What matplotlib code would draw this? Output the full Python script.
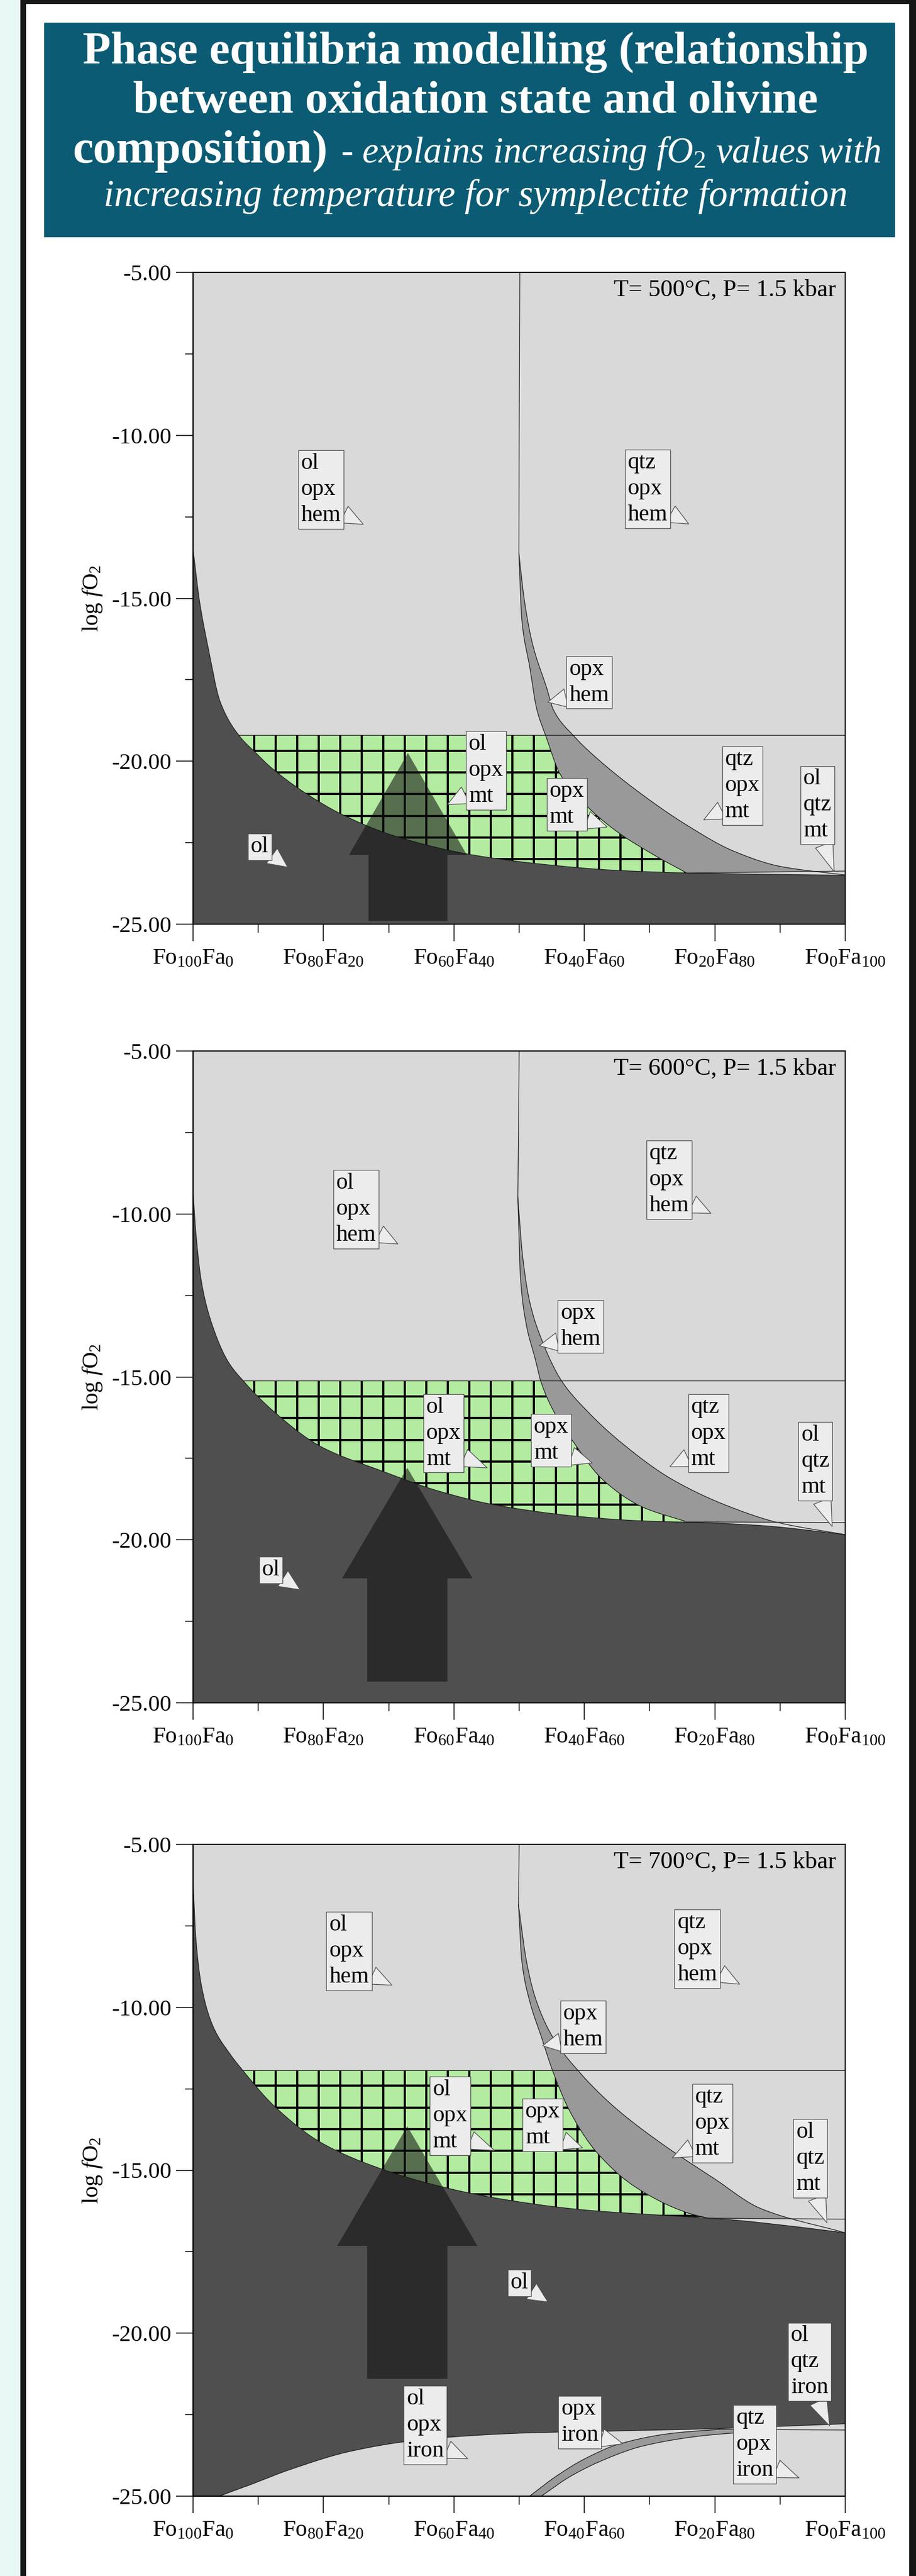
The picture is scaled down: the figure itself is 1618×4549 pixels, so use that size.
import numpy as np
import matplotlib
matplotlib.use('Agg')
import matplotlib.pyplot as plt
from matplotlib.patches import Rectangle, FancyArrow
from matplotlib.path import Path
from matplotlib.ticker import MultipleLocator, FormatStrFormatter

plt.rcParams['font.family'] = ['Liberation Serif', 'DejaVu Serif']
plt.rcParams['mathtext.fontset'] = 'custom'
plt.rcParams['mathtext.rm'] = 'Liberation Serif'
plt.rcParams['mathtext.it'] = 'Liberation Serif:italic'
plt.rcParams['mathtext.bf'] = 'Liberation Serif:bold'

# ------------------------------------------------------------------ data
x_ticks = [0, 20, 40, 60, 80, 100]
x_tick_labels = [r'$\mathrm{Fo}_{100}\mathrm{Fa}_{0}$', r'$\mathrm{Fo}_{80}\mathrm{Fa}_{20}$',
                 r'$\mathrm{Fo}_{60}\mathrm{Fa}_{40}$', r'$\mathrm{Fo}_{40}\mathrm{Fa}_{60}$',
                 r'$\mathrm{Fo}_{20}\mathrm{Fa}_{80}$', r'$\mathrm{Fo}_{0}\mathrm{Fa}_{100}$']
y_ticks = [-5, -10, -15, -20, -25]
panel_titles = ['T= 500°C, P= 1.5 kbar', 'T= 600°C, P= 1.5 kbar', 'T= 700°C, P= 1.5 kbar']

title_line1 = 'Phase equilibria modelling (relationship'
title_line2 = 'between oxidation state and olivine'
title_line3a = 'composition)'
title_line3b = r'- explains increasing fO$_2$ values with'
title_line4 = 'increasing temperature for symplectite formation'

# --- T = 500 C
ol500_x = [0, 1, 2.2, 4.2, 7.2, 9.4, 12, 17.4, 23.1, 31, 43, 54, 65, 76, 88, 100]
ol500_y = [-13.5, -15.1, -16.4, -18.2, -19.25, -19.7, -20.2, -21.0, -21.66, -22.3, -22.88,
           -23.17, -23.35, -23.43, -23.47, -23.5]
opxL500_x = [49.96, 50.4, 51.6, 52.7, 54.1, 56.3, 59.8, 64.8, 70.7, 75.7]
opxL500_y = [-13.63, -15.63, -17.08, -18.4, -19.23, -20.4, -21.26, -22.13, -22.88, -23.43]
opxR500_x = [49.96, 50.8, 52.0, 54.3, 55.2, 58.4, 61.3, 68.5, 75.7, 82.9, 90.1, 100]
opxR500_y = [-13.63, -15.06, -16.36, -17.8, -18.4, -19.23, -19.8, -20.97, -21.96, -22.76,
             -23.23, -23.49]
qtz500_x = [50.1, 50.0, 49.96]
qtz500_y = [-5.0, -10.0, -13.63]
hemmt500 = -19.2
olqtz500_x = [75.7, 100]
olqtz500_y = [-23.43, -23.37]
arrow500 = dict(x=32.95, bottom=-24.9, head_base=-22.88, tip=-19.75, width=12.1, head_width=18.1)

# --- T = 600 C
ol600_x = [0, 0.4, 1.3, 3.1, 5.4, 7.6, 12.6, 19.7, 28.6, 37.6, 46.6, 60.1, 69, 78, 87, 100]
ol600_y = [-9.3, -10.5, -12.1, -13.5, -14.54, -15.1, -16.1, -17.15, -17.86, -18.5, -18.94,
           -19.3, -19.42, -19.47, -19.56, -19.84]
opxL600_x = [49.8, 50.2, 51.1, 52.4, 53.3, 55.1, 58.3, 62.8, 69.0, 75.3]
opxL600_y = [-9.5, -11.95, -13.4, -14.4, -15.12, -15.98, -16.99, -18.15, -19.0, -19.42]
opxR600_x = [49.8, 50.5, 51.6, 53.4, 56.5, 60.1, 65.5, 73.5, 82.5, 89.7, 100]
opxR600_y = [-9.5, -11.24, -12.68, -13.83, -15.12, -15.98, -16.99, -18.15, -19.0, -19.47, -19.84]
qtz600_x = [50.0, 49.9, 49.8]
qtz600_y = [-5.0, -7.5, -9.5]
hemmt600 = -15.12
olqtz600_x = [75.3, 100]
olqtz600_y = [-19.45, -19.47]
arrow600 = dict(x=32.85, bottom=-24.35, head_base=-21.18, tip=-17.79, width=12.3, head_width=20.0)

# --- T = 700 C
ol700_x = [0, 0.4, 1.3, 3.1, 5.4, 7.6, 12.6, 19.7, 28.6, 37.6, 46.6, 60.1, 73.5, 82.5, 91.5, 100]
ol700_y = [-6.1, -7.8, -9.35, -10.6, -11.36, -11.93, -13.06, -14.16, -14.94, -15.48, -15.86,
           -16.22, -16.4, -16.52, -16.71, -16.92]
opxL700_x = [49.9, 50.4, 51.6, 53.4, 55.1, 57.8, 61.9, 68.1, 76.2, 79.0]
opxL700_y = [-6.86, -8.56, -9.8, -10.9, -11.93, -13.2, -14.45, -15.55, -16.33, -16.47]
opxR700_x = [49.9, 51.1, 52.4, 55.1, 59.2, 64.6, 71.7, 79.8, 87.0, 100]
opxR700_y = [-6.86, -8.56, -9.66, -10.9, -11.98, -13.06, -14.16, -15.24, -16.17, -16.92]
qtz700_x = [50.0, 49.95, 49.9]
qtz700_y = [-5.0, -6.0, -6.86]
hemmt700 = -11.93
olqtz700_x = [79.0, 100]
olqtz700_y = [-16.47, -16.5]
iron700_x = [4.0, 8.1, 15.2, 24.2, 33.2, 42.1, 51.1, 64.6, 78.0, 100]
iron700_y = [-25, -24.7, -24.16, -23.62, -23.31, -23.15, -23.06, -23.0, -22.94, -22.78]
opxironU700_x = [51.6, 55.6, 60.1, 65.5, 73.5, 80.7]
opxironU700_y = [-25, -24.4, -23.85, -23.39, -23.07, -22.95]
opxironL700_x = [53.4, 57.8, 62.8, 69.0, 78.0, 87.0]
opxironL700_y = [-25, -24.4, -23.9, -23.46, -23.15, -23.0]
qtziron700_x = [80.7, 100]
qtziron700_y = [-22.95, -22.97]
arrow700 = dict(x=32.85, bottom=-21.4, head_base=-17.32, tip=-13.65, width=12.3, head_width=21.5)

# field labels: (text, box top-left, pointer tip, side)
labels500 = [('ol\nopx\nhem', (16.1, -10.45), (26.1, -12.73), 'r'),
             ('qtz\nopx\nhem', (66.2, -10.43), (76.0, -12.72), 'r'),
             ('opx\nhem', (57.2, -16.76), (54.4, -18.19), 'l'),
             ('ol\nopx\nmt', (41.8, -19.06), (39.0, -21.33), 'l'),
             ('opx\nmt', (54.2, -20.5), (63.5, -22.02), 'r'),
             ('qtz\nopx\nmt', (81.1, -19.53), (78.3, -21.8), 'l'),
             ('ol\nqtz\nmt', (93.1, -20.13), (98.3, -23.39), 'b'),
             ('ol', (8.4, -22.21), (14.5, -23.25), 'r')]
labels600 = [('ol\nopx\nhem', (21.5, -8.64), (31.4, -10.92), 'r'),
             ('qtz\nopx\nhem', (69.5, -7.73), (79.4, -9.98), 'r'),
             ('opx\nhem', (55.9, -12.63), (53.1, -14.04), 'l'),
             ('ol\nopx\nmt', (35.3, -15.51), (45.1, -17.79), 'r'),
             ('opx\nmt', (51.8, -16.13), (61.2, -17.64), 'r'),
             ('qtz\nopx\nmt', (75.9, -15.51), (73.1, -17.76), 'l'),
             ('ol\nqtz\nmt', (92.8, -16.37), (98.0, -19.59), 'b'),
             ('ol', (10.1, -20.5), (16.4, -21.53), 'r')]
labels700 = [('ol\nopx\nhem', (20.4, -7.05), (30.5, -9.32), 'r'),
             ('qtz\nopx\nhem', (73.8, -6.99), (83.8, -9.29), 'r'),
             ('opx\nhem', (56.3, -9.78), (53.6, -11.18), 'l'),
             ('ol\nopx\nmt', (36.3, -12.11), (46.2, -14.39), 'r'),
             ('opx\nmt', (50.5, -12.79), (59.7, -14.31), 'r'),
             ('qtz\nopx\nmt', (76.5, -12.34), (73.5, -14.62), 'l'),
             ('ol\nqtz\nmt', (92.0, -13.41), (97.2, -16.61), 'b'),
             ('ol', (48.2, -18.03), (54.4, -19.04), 'r'),
             ('ol\nqtz\niron', (91.2, -19.66), (97.6, -22.84), 'b'),
             ('ol\nopx\niron', (32.3, -21.6), (42.1, -23.85), 'r'),
             ('opx\niron', (56.0, -21.91), (65.9, -23.39), 'r'),
             ('qtz\nopx\niron', (82.8, -22.19), (92.9, -24.44), 'r')]

panels = [
    dict(Ax=ol500_x, Ay=ol500_y, Bx=opxL500_x, By=opxL500_y, Cx=opxR500_x, Cy=opxR500_y,
         Vx=qtz500_x, Vy=qtz500_y, hem_mt=hemmt500, Mx=olqtz500_x, My=olqtz500_y,
         arrow=arrow500, labels=labels500, title=panel_titles[0]),
    dict(Ax=ol600_x, Ay=ol600_y, Bx=opxL600_x, By=opxL600_y, Cx=opxR600_x, Cy=opxR600_y,
         Vx=qtz600_x, Vy=qtz600_y, hem_mt=hemmt600, Mx=olqtz600_x, My=olqtz600_y,
         arrow=arrow600, labels=labels600, title=panel_titles[1]),
    dict(Ax=ol700_x, Ay=ol700_y, Bx=opxL700_x, By=opxL700_y, Cx=opxR700_x, Cy=opxR700_y,
         Vx=qtz700_x, Vy=qtz700_y, hem_mt=hemmt700, Mx=olqtz700_x, My=olqtz700_y,
         Dx=iron700_x, Dy=iron700_y, ELx=opxironU700_x, ELy=opxironU700_y,
         ERx=opxironL700_x, ERy=opxironL700_y, Nx=qtziron700_x, Ny=qtziron700_y,
         arrow=arrow700, labels=labels700, title=panel_titles[2]),
]

# ------------------------------------------------------------------ style
W, H, DPI = 1618, 4549, 100
LIGHT = '#d9d9d9'
DARK = '#4f4f4f'
MID = '#999999'
GREEN = '#b3eca1'
BOX_FC = '#ececec'
BOX_EC = '#505050'
LINE = '#1e1e1e'
TEAL = '#0a5b73'
FS = 29.5
GRID_DX, GRID_DY = 3.3, 0.665


def smooth(xp, yp, xn):
    """monotone cubic (PCHIP) interpolation, NaN outside the data range"""
    x = np.asarray(xp, float)
    y = np.asarray(yp, float)
    h = np.diff(x)
    d = np.diff(y) / h
    m = np.zeros_like(y)
    m[0], m[-1] = d[0], d[-1]
    for k in range(1, len(x) - 1):
        if d[k - 1] * d[k] <= 0:
            m[k] = 0.0
        else:
            w1 = 2 * h[k] + h[k - 1]
            w2 = h[k] + 2 * h[k - 1]
            m[k] = (w1 + w2) / (w1 / d[k - 1] + w2 / d[k])
    idx = np.clip(np.searchsorted(x, xn) - 1, 0, len(x) - 2)
    t = (xn - x[idx]) / h[idx]
    h00 = 2 * t**3 - 3 * t**2 + 1
    h10 = t**3 - 2 * t**2 + t
    h01 = -2 * t**3 + 3 * t**2
    h11 = t**3 - t**2
    res = h00 * y[idx] + h10 * h[idx] * m[idx] + h01 * y[idx + 1] + h11 * h[idx] * m[idx + 1]
    res = np.where((xn < x[0]) | (xn > x[-1]), np.nan, res)
    return res


def draw_panel(ax, P):
    xs = np.linspace(0, 100, 5001)
    A = smooth(P['Ax'], P['Ay'], xs)
    B = smooth(P['Bx'], P['By'], xs)
    C = smooth(P['Cx'], P['Cy'], xs)
    M = np.interp(xs, P['Mx'], P['My'], left=np.nan, right=np.nan)
    yh = P['hem_mt']
    ax.set_facecolor(LIGHT)

    # ol field
    ax.fill_between(xs, -25, A, facecolor=DARK, lw=0, zorder=1)

    # ol + opx + mt field (green, cross-hatched)
    bx0, bx1 = P['Bx'][0], P['Bx'][-1]
    top = np.where(xs < bx0, yh, np.fmin(yh, B))
    top = np.where(xs > bx1, np.nan, top)
    gmask = top > A
    green = ax.fill_between(xs, A, top, where=gmask, facecolor=GREEN, lw=0, zorder=1.2)
    clip = Path.make_compound_path(*green.get_paths())
    xg = np.arange(2.8, 100, GRID_DX)
    yg = np.arange(yh - 0.48, -25, -GRID_DY)
    vl = ax.vlines(xg, -25, -5, colors='black', lw=2.7, zorder=1.3)
    hl = ax.hlines(yg, 0, 100, colors='black', lw=2.7, zorder=1.3)
    vl.set_clip_path(clip, ax.transData)
    hl.set_clip_path(clip, ax.transData)

    # opx band
    lower = np.where(xs <= bx1, B, M)
    bmask = C > lower
    ax.fill_between(xs, lower, C, where=bmask, facecolor=MID, lw=0, zorder=1.4)

    lk = dict(color=LINE, lw=0.9, zorder=2.5)
    if 'Dx' in P:
        D = smooth(P['Dx'], P['Dy'], xs)
        ax.fill_between(xs, -25, D, where=~np.isnan(D), facecolor=LIGHT, lw=0, zorder=1.1)
        EU = smooth(P['ELx'], P['ELy'], xs)
        EL = smooth(P['ERx'], P['ERy'], xs)
        N = np.interp(xs, P['Nx'], P['Ny'], left=np.nan, right=np.nan)
        up = np.where(xs <= P['ELx'][-1], EU, N)
        lo = np.where(xs < P['ERx'][0], -25, EL)
        ax.fill_between(xs, lo, up, where=up > lo, facecolor=MID, lw=0, zorder=1.4)
        ax.plot(xs, D, **lk)
        ax.plot(xs, EU, **lk)
        ax.plot(xs, EL, **lk)
        ax.plot(P['Nx'], P['Ny'], **lk)

    ax.plot(xs, A, **lk)
    ax.plot(xs, B, **lk)
    ax.plot(xs, C, **lk)
    ax.plot(P['Vx'], P['Vy'], **lk)
    xcross = xs[np.argmax(A <= yh)]
    ax.plot([xcross, 100], [yh, yh], **lk)
    ax.plot(P['Mx'], P['My'], **lk)

    # arrow
    a = P['arrow']
    ax.add_patch(FancyArrow(a['x'], a['bottom'], 0, a['tip'] - a['bottom'], width=a['width'],
                            head_width=a['head_width'], head_length=a['tip'] - a['head_base'],
                            length_includes_head=True, fc='#111111', alpha=0.57, lw=0, zorder=3))

    # field labels
    rel = {'r': (1.0, 0.18), 'l': (0.0, 0.18), 'b': (0.7, 0.0)}
    for txt, (bx, by), tip, side in P['labels']:
        ax.annotate(txt, xy=tip, xytext=(bx + 0.45, by - 0.1), textcoords='data',
                    ha='left', va='top', fontsize=FS, linespacing=1.32, color='black',
                    bbox=dict(boxstyle='square,pad=0.12', fc=BOX_FC, ec=BOX_EC, lw=0.9),
                    arrowprops=dict(arrowstyle='wedge,tail_width=0.8,shrink_factor=0.5',
                                    fc=BOX_FC, ec=BOX_EC, lw=0.9, relpos=rel[side],
                                    shrinkA=0, shrinkB=0),
                    zorder=5, annotation_clip=False)

    ax.text(0.986, 0.99, P['title'], transform=ax.transAxes, ha='right', va='top',
            fontsize=31, zorder=6)

    ax.set_xlim(0, 100)
    ax.set_ylim(-25, -5)
    ax.set_xticks(x_ticks)
    ax.set_xticklabels(x_tick_labels)
    ax.xaxis.set_minor_locator(MultipleLocator(10))
    ax.set_yticks(y_ticks)
    ax.yaxis.set_major_formatter(FormatStrFormatter('%.2f'))
    ax.yaxis.set_minor_locator(MultipleLocator(2.5))
    ax.tick_params(which='major', direction='out', length=21.5, width=1.1, labelsize=FS,
                   color='black')
    ax.tick_params(axis='x', which='major', pad=9)
    ax.tick_params(axis='y', which='major', pad=6)
    ax.tick_params(which='minor', direction='out', length=11, width=1.1, color='black')
    ax.tick_params(axis='y', which='minor', length=10)
    for s in ax.spines.values():
        s.set_linewidth(1.5)
        s.set_color('black')
        s.set_zorder(4)
    ax.set_ylabel(r'log $f$O$_2$', fontsize=FS)
    ax.yaxis.set_label_coords(-0.136, 0.5)


# ------------------------------------------------------------------ figure
fig = plt.figure(figsize=(W / DPI, H / DPI), dpi=DPI, facecolor='#e8f8f5')
fig.patches.append(Rectangle((36 / W, 0), (W - 36) / W, 1, transform=fig.transFigure,
                             fc='#151716', ec='none', zorder=-30))
fig.patches.append(Rectangle((46 / W, 0), (1606 - 46) / W, (H - 7) / H, transform=fig.transFigure,
                             fc='white', ec='none', zorder=-20))
fig.patches.append(Rectangle((78 / W, 1 - 419 / H), (1581 - 78) / W, (419 - 40) / H,
                             transform=fig.transFigure, fc=TEAL, ec='none', zorder=-10))

ax_left, ax_w = 341 / W, 1152 / W
ax_tops = [481, 1856, 3257]
ax_h_px = 1151
for top_px, P in zip(ax_tops, panels):
    ax = fig.add_axes([ax_left, 1 - (top_px + ax_h_px) / H, ax_w, ax_h_px / H])
    draw_panel(ax, P)

# title text, fitted to the widths of the original lines
def ftext(x_px, y_px, s, **kw):
    return fig.text(x_px / W, 1 - y_px / H, s, color='white', va='baseline', **kw)

t1 = ftext(840, 112, title_line1, ha='center', fontsize=48, fontweight='bold')
t2 = ftext(840, 199, title_line2, ha='center', fontsize=48, fontweight='bold')
t3a = ftext(128, 287, title_line3a, ha='left', fontsize=48, fontweight='bold')
t3b = ftext(602, 287, title_line3b, ha='left', fontsize=48, style='italic')
t4 = ftext(840, 364, title_line4, ha='center', fontsize=48, style='italic')
fig.canvas.draw()
r = fig.canvas.get_renderer()
for t, wpx in [(t1, 1389), (t2, 1211), (t3a, 450), (t3b, 953), (t4, 1314)]:
    w = t.get_window_extent(r).width
    t.set_fontsize(t.get_fontsize() * wpx / w)

fig.savefig('out.png', dpi=DPI, facecolor=fig.get_facecolor())
